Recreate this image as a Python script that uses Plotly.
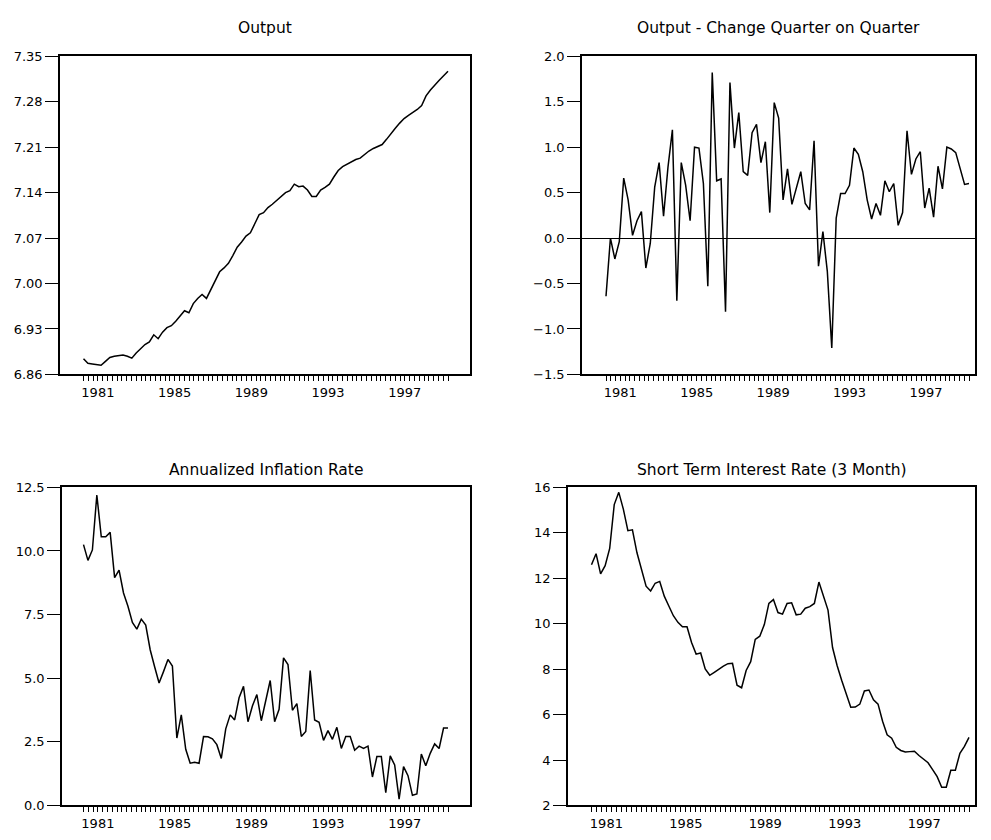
import plotly.graph_objects as go

# the page body adds an 8px margin, so the figure is drawn 8px in and 8px down
OFF = 8
W, H = 991 - OFF, 840 - OFF

# quarterly index: 0 = 1980Q1 ... 83 = 2000Q4
# the date axis carries 77 evenly spaced quarter ticks across the plotted span,
# with a year label on every 16th tick
N_TICKS = 77
year_labels = ["1981", "1985", "1989", "1993", "1997"]
year_tick = [3, 19, 35, 51, 67]

output = [
    6.884, 6.877, 6.876, 6.875, 6.874, 6.880, 6.886, 6.888, 6.889, 6.890,
    6.888, 6.885, 6.893, 6.899, 6.906, 6.910, 6.921, 6.915, 6.925, 6.932,
    6.935, 6.942, 6.950, 6.958, 6.955, 6.969, 6.977, 6.983, 6.977, 6.990,
    7.004, 7.018, 7.024, 7.031, 7.043, 7.056, 7.064, 7.073, 7.078, 7.091,
    7.106, 7.109, 7.117, 7.122, 7.128, 7.135, 7.140, 7.143, 7.153, 7.149,
    7.150, 7.144, 7.134, 7.134, 7.144, 7.148, 7.153, 7.164, 7.174, 7.180,
    7.184, 7.187, 7.191, 7.193, 7.199, 7.204, 7.208, 7.211, 7.214, 7.222,
    7.231, 7.239, 7.247, 7.254, 7.259, 7.263, 7.268, 7.274, 7.289, 7.298,
    7.306, 7.313, 7.320, 7.327,
]

# starts one quarter later (1980Q2)
output_qoq = [
    -0.64, 0.00, -0.23, -0.04, 0.66, 0.42, 0.03, 0.19, 0.29, -0.33,
    -0.06, 0.56, 0.83, 0.24, 0.78, 1.19, -0.69, 0.83, 0.58, 0.19,
    1.00, 0.99, 0.60, -0.53, 1.82, 0.63, 0.65, -0.81, 1.71, 0.99,
    1.38, 0.73, 0.69, 1.16, 1.25, 0.83, 1.06, 0.28, 1.49, 1.32,
    0.42, 0.76, 0.37, 0.55, 0.73, 0.38, 0.31, 1.07, -0.31, 0.07,
    -0.37, -1.21, 0.22, 0.49, 0.49, 0.58, 0.99, 0.92, 0.73, 0.42,
    0.21, 0.38, 0.25, 0.63, 0.51, 0.60, 0.14, 0.28, 1.18, 0.70,
    0.87, 0.95, 0.33, 0.55, 0.23, 0.79, 0.54, 1.00, 0.98, 0.94,
    0.76, 0.59, 0.60,
]

# starts 1980Q2
inflation = [
    10.25, 9.63, 10.04, 12.20, 10.56, 10.56, 10.73, 8.95, 9.25, 8.35,
    7.83, 7.19, 6.93, 7.32, 7.09, 6.12, 5.45, 4.81, 5.26, 5.74,
    5.48, 2.65, 3.56, 2.21, 1.66, 1.70, 1.66, 2.71, 2.70, 2.62,
    2.39, 1.85, 3.01, 3.56, 3.36, 4.23, 4.68, 3.29, 3.91, 4.36,
    3.33, 4.10, 4.91, 3.29, 3.78, 5.80, 5.54, 3.74, 4.00, 2.71,
    2.91, 5.30, 3.36, 3.27, 2.56, 2.94, 2.60, 3.07, 2.24, 2.71,
    2.71, 2.17, 2.33, 2.24, 2.33, 1.12, 1.92, 1.92, 0.50, 1.95,
    1.59, 0.25, 1.53, 1.17, 0.40, 0.45, 2.02, 1.56, 2.05, 2.42,
    2.24, 3.04, 3.04,
]

short_rate = [
    12.59, 13.08, 12.19, 12.55, 13.31, 15.24, 15.78, 15.04, 14.09, 14.13,
    13.12, 12.33, 11.65, 11.44, 11.78, 11.86, 11.21, 10.78, 10.35, 10.06,
    9.86, 9.86, 9.17, 8.66, 8.71, 8.01, 7.73, 7.86, 8.00, 8.13,
    8.24, 8.26, 7.29, 7.18, 7.94, 8.33, 9.31, 9.45, 9.96, 10.89,
    11.06, 10.49, 10.42, 10.89, 10.92, 10.39, 10.42, 10.68, 10.75, 10.89,
    11.83, 11.25, 10.60, 8.95, 8.16, 7.51, 6.86, 6.32, 6.33, 6.46,
    7.04, 7.08, 6.65, 6.46, 5.71, 5.11, 4.96, 4.56, 4.42, 4.35,
    4.37, 4.39, 4.20, 4.06, 3.88, 3.58, 3.27, 2.80, 2.80, 3.55,
    3.55, 4.30, 4.60, 5.00,
]

panels = [
    # title, values, first index, box (left, top, right, bottom) in page px,
    # inner pads (left, right) px, y range, dtick, format, title gap
    ("Output", output, 0, (60, 50, 470, 374), (23.5, 22), (6.86, 7.35), 0.07, ".2f", 29),
    ("Output - Change Quarter on Quarter", output_qoq, 1, (582, 50, 975, 374), (24, 6), (-1.5, 2.0), 0.5, ".1f", 29),
    ("Annualized Inflation Rate", inflation, 1, (62, 489, 470, 813), (21.5, 22), (0.0, 12.5), 2.5, ".1f", 18),
    ("Short Term Interest Rate (3 Month)", short_rate, 0, (568, 489, 975, 813), (23.5, 6), (2, 16), 2, "d", 18),
]

FONT = "DejaVu Sans, Arial, sans-serif"
tick_font = dict(family=FONT, size=13, color="black")


def fx(p):
    return (p - OFF) / W


def fy(p):
    return 1 - (p - OFF) / H


fig = go.Figure()
layout = dict(
    width=W, height=H, autosize=False,
    margin=dict(l=0, r=0, t=0, b=0),
    paper_bgcolor="white", plot_bgcolor="white",
    showlegend=False, annotations=[],
)

for i, (title, vals, i0, box, pads, yr, dtick, fmt, gap) in enumerate(panels, start=1):
    left, top, right, bottom = box
    pad_l, pad_r = pads
    n = len(vals)
    i1 = i0 + n - 1
    xs = list(range(i0, i1 + 1))
    step = (right - left - pad_l - pad_r) / (n - 1)
    xrange = [i0 - pad_l / step, i1 + pad_r / step]

    sfx = "" if i == 1 else str(i)
    fig.add_trace(go.Scatter(
        x=xs, y=vals, mode="lines",
        line=dict(color="black", width=1.5),
        xaxis="x" + sfx, yaxis="y" + sfx, hoverinfo="skip",
    ))

    tickvals = [i0 + k * (i1 - i0) / (N_TICKS - 1) for k in range(N_TICKS)]
    ticktext = [year_labels[year_tick.index(k)] if k in year_tick else "" for k in range(N_TICKS)]

    layout["xaxis" + sfx] = dict(
        domain=[fx(left), fx(right)], anchor="y" + sfx, range=xrange,
        tickmode="array", tickvals=tickvals, ticktext=ticktext,
        ticks="outside", ticklen=5, tickwidth=1, tickcolor="black",
        showline=True, mirror=True, linecolor="black", linewidth=1.5,
        showgrid=False, zeroline=False, tickfont=tick_font,
    )
    layout["yaxis" + sfx] = dict(
        domain=[fy(bottom), fy(top)], anchor="x" + sfx, range=list(yr),
        tickmode="linear", tick0=yr[0], dtick=dtick, tickformat=fmt,
        ticks="outside", ticklen=13, tickwidth=1, tickcolor="black",
        showline=True, mirror=True, linecolor="black", linewidth=1.5,
        showgrid=False, zeroline=(i == 2), zerolinecolor="black", zerolinewidth=1,
        tickfont=tick_font,
    )
    layout["annotations"].append(dict(
        text=title, xref="paper", yref="paper",
        x=fx((left + right) / 2), y=fy(top - gap),
        xanchor="center", yanchor="middle", showarrow=False,
        font=dict(family=FONT, size=15.5, color="black"),
    ))

fig.update_layout(**layout)
fig.write_html("out.html")
